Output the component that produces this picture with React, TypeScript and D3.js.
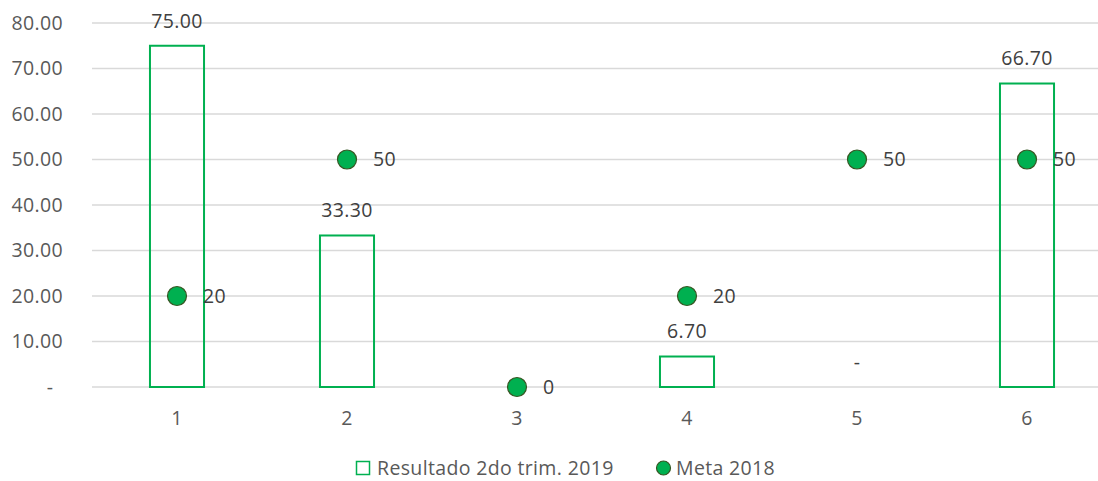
import React, { useEffect, useRef } from "react";
import * as d3 from "d3";

const categories = ["1", "2", "3", "4", "5", "6"];
const resultado2019: (number | null)[] = [75.0, 33.3, null, 6.7, 0, 66.7];
const meta2018 = [20, 50, 0, 20, 50, 50];
const yTicks = [0, 10, 20, 30, 40, 50, 60, 70, 80];
const seriesNames = ["Resultado 2do trim. 2019", "Meta 2018"];

const GREEN = "#00b050";
const DARK = "#375623";
const TEXT = "#595959";
const FONT = "'Open Sans', 'Noto Sans', sans-serif";
const FS = 19.5;
const LS = "0.35px";

const App: React.FC = () => {
  const svgRef = useRef<SVGSVGElement>(null);

  useEffect(() => {
    if (!svgRef.current) return;
    const width = 1098;
    const height = 481;
    const left = 92;
    const top = 23;
    const bottom = 387;

    const svg = d3.select(svgRef.current);
    svg.selectAll("*").remove();
    svg
      .attr("width", width)
      .attr("height", height)
      .style("font-family", FONT)
      .style("letter-spacing", LS);

    const x = d3
      .scaleBand<string>()
      .domain(categories)
      .range([left, left + 170 * categories.length])
      .paddingInner(0.682)
      .paddingOuter(0.341);
    const y = d3.scaleLinear().domain([0, 80]).range([bottom, top]);
    const cx = (c: string) => (x(c) as number) + x.bandwidth() / 2;

    // gridlines
    svg
      .append("g")
      .selectAll("line")
      .data(yTicks)
      .enter()
      .append("line")
      .attr("x1", left)
      .attr("x2", width)
      .attr("y1", (d) => y(d))
      .attr("y2", (d) => y(d))
      .attr("stroke", "#d9d9d9")
      .attr("stroke-width", 1.3);

    // y labels
    svg
      .append("g")
      .selectAll("text")
      .data(yTicks)
      .enter()
      .append("text")
      .attr("x", (d) => (d === 0 ? 50 : 63))
      .attr("y", (d) => y(d))
      .attr("dy", "0.35em")
      .attr("text-anchor", (d) => (d === 0 ? "middle" : "end"))
      .attr("fill", TEXT)
      .attr("font-size", FS)
      .text((d) => (d === 0 ? "-" : d3.format(".2f")(d)));

    // x labels
    svg
      .append("g")
      .selectAll("text")
      .data(categories)
      .enter()
      .append("text")
      .attr("x", (d) => cx(d))
      .attr("y", 418)
      .attr("dy", "0.35em")
      .attr("text-anchor", "middle")
      .attr("fill", TEXT)
      .attr("font-size", FS)
      .text((d) => d);

    const barData = categories.map((c, i) => ({ c, v: resultado2019[i] }));

    // bars
    svg
      .append("g")
      .selectAll("rect")
      .data(barData.filter((d) => d.v !== null && (d.v as number) > 0))
      .enter()
      .append("rect")
      .attr("x", (d) => x(d.c) as number)
      .attr("y", (d) => y(d.v as number))
      .attr("width", x.bandwidth())
      .attr("height", (d) => bottom - y(d.v as number))
      .attr("fill", "none")
      .attr("stroke", GREEN)
      .attr("stroke-width", 2);

    // bar labels
    svg
      .append("g")
      .selectAll("text")
      .data(barData.filter((d) => d.v !== null))
      .enter()
      .append("text")
      .attr("x", (d) => cx(d.c))
      .attr("y", (d) => y(d.v as number) - 25)
      .attr("dy", "0.35em")
      .attr("text-anchor", "middle")
      .attr("fill", "#404040")
      .attr("font-size", FS)
      .text((d) => ((d.v as number) === 0 ? "-" : d3.format(".2f")(d.v as number)));

    const pointData = categories.map((c, i) => ({ c, v: meta2018[i] }));

    // points
    svg
      .append("g")
      .selectAll("circle")
      .data(pointData)
      .enter()
      .append("circle")
      .attr("cx", (d) => cx(d.c))
      .attr("cy", (d) => y(d.v))
      .attr("r", 9.5)
      .attr("fill", GREEN)
      .attr("stroke", DARK)
      .attr("stroke-width", 1.2);

    svg
      .append("g")
      .selectAll("text")
      .data(pointData)
      .enter()
      .append("text")
      .attr("x", (d) => cx(d.c) + 26)
      .attr("y", (d) => y(d.v))
      .attr("dy", "0.35em")
      .attr("fill", "#404040")
      .attr("font-size", FS)
      .text((d) => String(d.v));

    // legend
    const lg = svg.append("g").attr("transform", "translate(356,468)");
    lg.append("rect")
      .attr("x", 0.5)
      .attr("y", -6.5)
      .attr("width", 13)
      .attr("height", 13)
      .attr("fill", "none")
      .attr("stroke", GREEN)
      .attr("stroke-width", 1.5);
    lg.append("text")
      .attr("x", 21)
      .attr("y", 0)
      .attr("dy", "0.35em")
      .attr("fill", TEXT)
      .attr("font-size", FS)
      .text(seriesNames[0]);
    lg.append("circle")
      .attr("cx", 307.5)
      .attr("cy", 0)
      .attr("r", 7)
      .attr("fill", GREEN)
      .attr("stroke", DARK)
      .attr("stroke-width", 1.2);
    lg.append("text")
      .attr("x", 320)
      .attr("y", 0)
      .attr("dy", "0.35em")
      .attr("fill", TEXT)
      .attr("font-size", FS)
      .text(seriesNames[1]);
  }, []);

  return (
    <div style={{ position: "absolute", left: 0, top: 0 }}>
      <svg ref={svgRef}></svg>
    </div>
  );
};

export default App;
